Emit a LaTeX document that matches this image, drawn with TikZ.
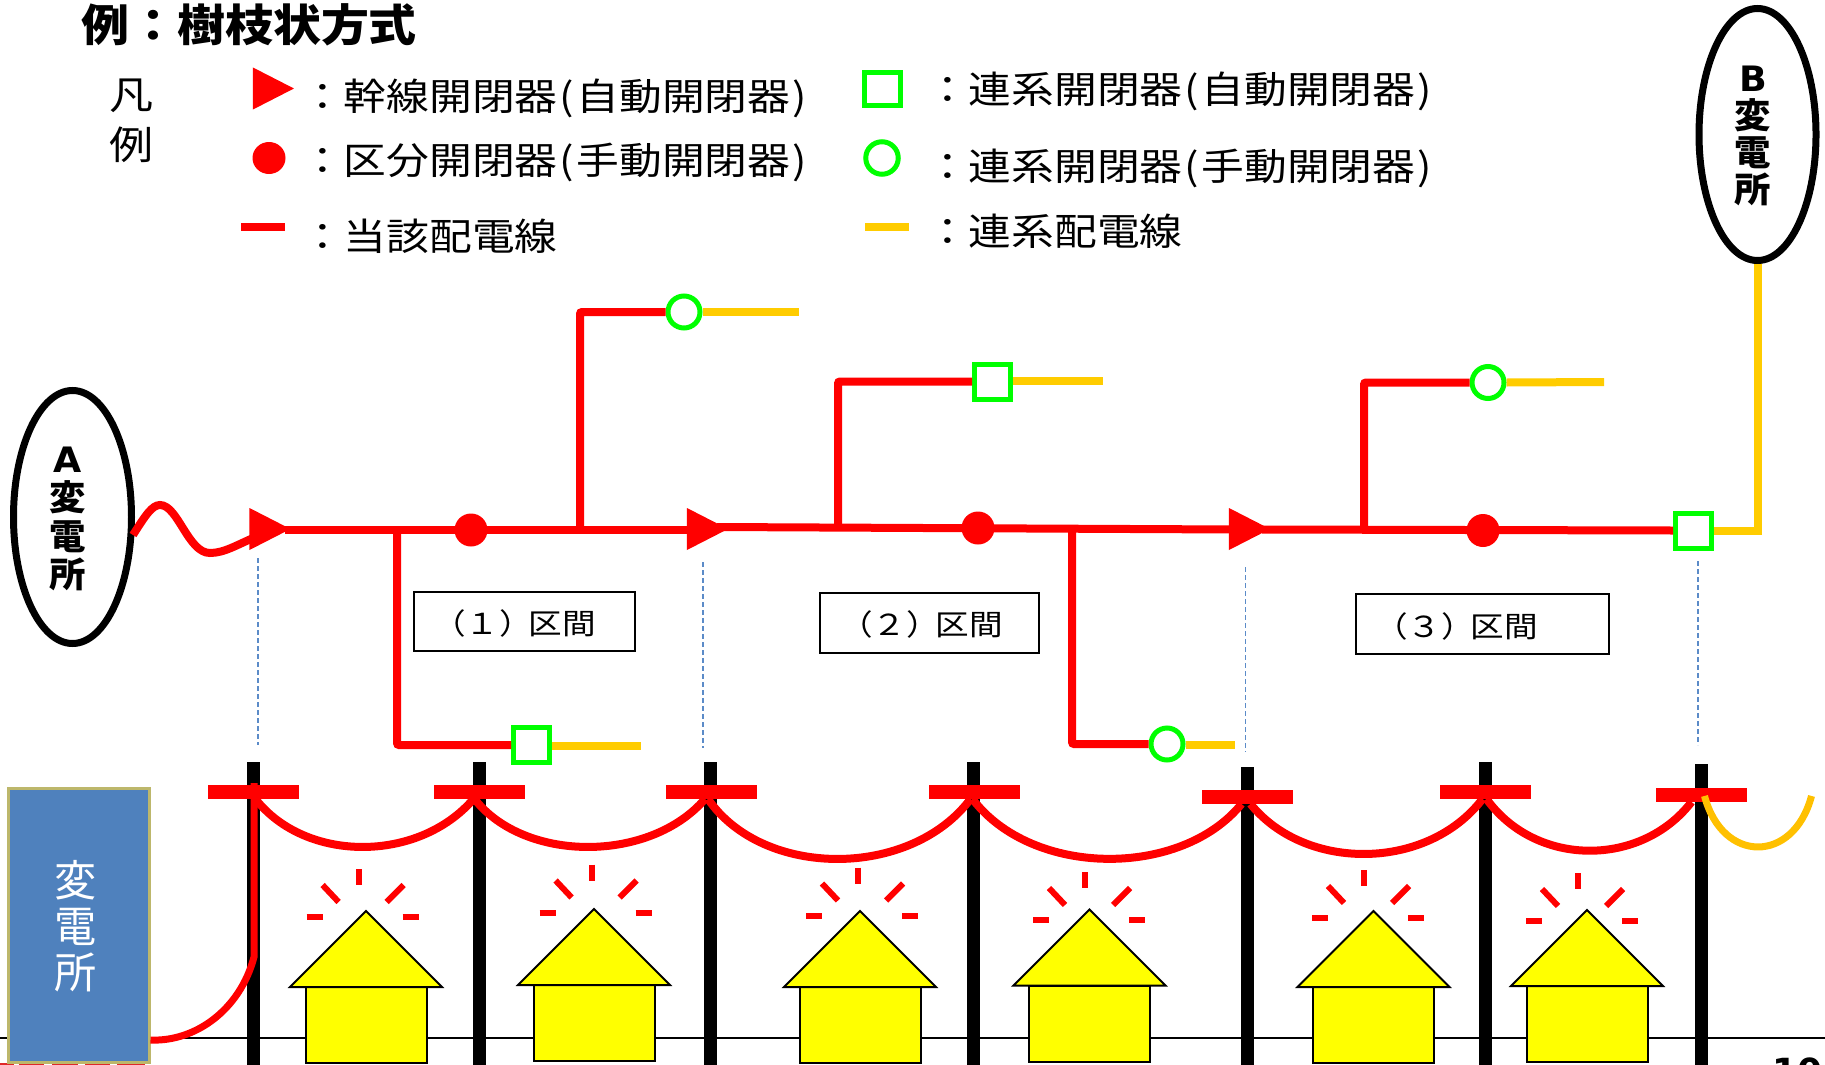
\documentclass[tikz,border=0pt]{standalone}
\usepackage{fontspec}
\usetikzlibrary{shapes.geometric}
\newfontfamily\jp{Noto Sans CJK JP}
\newfontfamily\djv{DejaVu Sans}
\definecolor{linered}{HTML}{FF0000}
\definecolor{tiegold}{HTML}{FFCC00}
\definecolor{tieorange}{HTML}{FFC000}
\definecolor{swgreen}{HTML}{00FF00}
\definecolor{subblue}{HTML}{4F81BD}
\definecolor{subedge}{HTML}{BDB76B}
\definecolor{dashblue}{HTML}{5B8BC8}
\definecolor{stripred}{HTML}{E02828}
\definecolor{houseyellow}{HTML}{FFFF00}
\tikzset{
  x=1pt,y=-1pt,
  feeder/.style={draw=linered,line width=8pt,rounded corners=2pt},
  tieline/.style={draw=tiegold,line width=8pt},
  wire/.style={draw=linered,line width=8pt},
  pole/.style={draw=black,line width=13pt},
  arm/.style={fill=linered,minimum width=91pt,minimum height=13.5pt,inner sep=0pt},
  trunksw/.style={isosceles triangle,isosceles triangle stretches,fill=linered,inner sep=0pt,minimum width=42pt,minimum height=41pt,anchor=apex},
  sectsw/.style={circle,fill=linered,inner sep=0pt,minimum size=33pt},
  tiesq/.style={rectangle,draw=swgreen,fill=white,line width=5pt,inner sep=0pt,minimum width=36pt,minimum height=35pt},
  tiecirc/.style={circle,draw=swgreen,fill=white,line width=5pt,inner sep=0pt,minimum size=32pt},
  station/.style={ellipse,draw=black,fill=white,line width=7pt,inner sep=0pt,minimum width=118pt,minimum height=253pt},
  sectbox/.style={rectangle,draw=black,line width=2.5pt,inner sep=0pt},
  sectlabel/.style={font=\jp\fontsize{29}{32}\selectfont,inner sep=0pt,xscale=1.16,transform shape},
  legendtext/.style={font=\jp\fontsize{37.5}{40}\selectfont,inner sep=0pt,anchor=base west,xscale=1.14,transform shape},
  stationtext/.style={font=\jp\bfseries\fontsize{35}{38.5}\selectfont,align=center,inner sep=0pt,xscale=1.04,transform shape},
  ray/.style={draw=linered,line width=6pt},
  bluedash/.style={draw=dashblue,line width=1.2pt,dash pattern=on 5pt off 3pt},
}
\newcommand{\mkhouse}[4]{%
  \begin{scope}[shift={(#1,#2)}]
    \draw[black,fill=houseyellow,line width=2pt] (-60.5,76) rectangle (60.5,152);
    \draw[black,fill=houseyellow,line width=2pt,line join=miter] (0,0) -- (76,76) -- (-76,76) -- cycle;
  \end{scope}
  \begin{scope}[shift={(#3,#4)}]
    \draw[ray] (0,-37) -- (0,-21);
    \draw[ray] (-36,-21) -- (-20,-4);
    \draw[ray] (45,-21) -- (28,-4);
    \draw[ray] (-52,11) -- (-36,11);
    \draw[ray] (44,11) -- (60,11);
  \end{scope}}
\newcommand{\lp}{\kern1.5pt(\kern2.5pt}
\newcommand{\rp}{\kern2pt)}
\begin{document}
\begin{tikzpicture}
\useasboundingbox (0,0) rectangle (1825,1065);
% bottom strip
\foreach \a/\b in {0/14,19/44,52/78,85/110,117/145}
  \fill[stripred] (\a,1063) rectangle (\b,1065);
% ground
\draw[black,line width=2pt] (0,1038) -- (1825,1038);
% poles
\foreach \px/\pt in {253.5/762,479.5/762,710/762,973/762,1247.5/767,1485/762,1701.5/764}
  \draw[pole] (\px,\pt) -- (\px,1065);
% cross arms
\node[arm] (arm1) at (253.5,792) {};
\node[arm] (arm2) at (479.5,792) {};
\node[arm] (arm3) at (711,792) {};
\node[arm] (arm4) at (974.5,792) {};
\node[arm] (arm5) at (1247.5,797) {};
\node[arm] (arm6) at (1485.5,792) {};
\node[arm] (arm7) at (1701.5,795) {};
% catenaries
\draw[wire] ([xshift=2pt]arm1.south) .. controls +(50,64) and +(-55,64) .. ([xshift=-6pt]arm2.south);
\draw[wire] ([xshift=-5pt]arm2.south) .. controls +(50,64) and +(-55,64) .. ([xshift=-6pt]arm3.south);
\draw[wire] ([xshift=-3pt]arm3.south) .. controls +(55,80) and +(-60,80) .. ([xshift=-4pt]arm4.south);
\draw[wire] ([xshift=-2pt]arm4.south) .. controls +(60,79) and +(-60,74) .. ([xshift=-6pt]arm5.south);
\draw[wire] ([xshift=3pt]arm5.south) .. controls +(55,68) and +(-55,72) .. ([xshift=-3pt]arm6.south);
\draw[wire] ([xshift=1pt]arm6.south) .. controls +(50,69) and +(-50,65) .. ([xshift=-10pt]arm7.south);
\draw[draw=tieorange,line width=7pt] ([xshift=3pt,yshift=6pt]arm7.south) .. controls +(18,68) and +(-18,68) .. ([xshift=110pt,yshift=6pt]arm7.south);
% houses
\mkhouse{366}{911}{358.6}{906}
\mkhouse{594}{909}{591.6}{901.5}
\mkhouse{860}{911}{858}{904.5}
\mkhouse{1089.5}{909.5}{1085}{909}
\mkhouse{1373.5}{911}{1364}{907}
\mkhouse{1587}{910}{1578}{910}
% substation block
\node[rectangle,draw=subedge,fill=subblue,line width=3pt,minimum width=141pt,minimum height=274pt,inner sep=0pt] (sub) at (78.5,925) {};
\node[font=\jp\fontsize{43}{46}\selectfont,text=white,align=center,inner sep=0pt,xscale=.98,transform shape] (subtxt) at (75.5,926) {変\\電\\所};
\coordinate (lead1) at (254,957);
\coordinate (leadtop) at (254,783);
\draw[wire,line width=7pt] (sub.east|-0,1040) .. controls (195,1042) and (240,1010) .. (lead1) -- (leadtop);
% stations
\node[station] (A) at (72.5,517) {};
\node[station,minimum width=117pt,minimum height=252pt] (B) at (1757.5,134.5) {};
\node[stationtext] (Atxt) at (68,519) {{\djv\bfseries A}\\変\\電\\所};
\node[stationtext,font=\jp\bfseries\fontsize{35}{37}\selectfont] (Btxt) at (1753,136) {{\djv\bfseries B}\\変\\電\\所};
% switches on main
\node[trunksw] (t1) at (291,529) {};
\node[trunksw] (t2) at (728.5,529) {};
\node[trunksw] (t3) at (1270.5,529) {};
\node[sectsw] (d1) at (471,530) {};
\node[sectsw] (d2) at (978,528) {};
\node[sectsw] (d3) at (1483,530.5) {};
\node[tiesq] (sA) at (531.5,745) {};
\node[tiesq] (sB) at (992.5,381.5) {};
\node[tiesq] (sC) at (1693.5,530.5) {};
\node[tiecirc] (cA) at (684,312) {};
\node[tiecirc] (cB) at (1167,744) {};
\node[tiecirc] (cC) at (1488,382.5) {};
% main feeder
\coordinate (waveStart) at (133,535);
\coordinate (waveEnd) at (258,536);
\draw[wire] (waveStart) .. controls (145,516) and (152,505) .. (160,505) .. controls (178,505) and (188,553) .. (210,553) .. controls (225,553) and (238,544) .. (waveEnd);
\coordinate (m1a) at (285,530);
\coordinate (m1b) at (690,530);
\coordinate (m2a) at (717,527);
\coordinate (m2b) at (1235,529.5);
\coordinate (m3a) at (1262,529.5);
\draw[wire] (m1a) -- (m1b);
\draw[wire] (m2a) -- (m2b);
\draw[wire] (m3a) -- (sC.west);
% branches
\coordinate (j1) at (397,530);
\coordinate (j2) at (580,530);
\coordinate (j3) at (838,528);
\coordinate (j4) at (1072,529);
\coordinate (j5) at (1364,530);
\draw[feeder] (j1) |- (sA.west);
\draw[feeder] (j2) |- (cA.west);
\draw[feeder] (j3) |- (sB.west);
\draw[feeder] (j4) |- (cB.west);
\draw[feeder] (j5) |- (cC.west);
% tie lines
\coordinate (e1) at (641,746);
\coordinate (e2) at (799,312);
\coordinate (e3) at (1103,381);
\coordinate (e4) at (1235,745);
\coordinate (e5) at (1604,382);
\draw[tieline] (sA.east|-e1) -- (e1);
\draw[tieline] (cA.east) -- (e2);
\draw[tieline] (sB.east|-e3) -- (e3);
\draw[tieline] (cB.east|-e4) -- (e4);
\draw[tieline] (cC.east) -- (e5);
\draw[tieline,line join=miter] (sC.east) -| (B.south);
% section boxes
\node[sectbox,minimum width=221pt,minimum height=59pt] (b1) at (524.5,621.5) {};
\node[sectbox,minimum width=219pt,minimum height=60pt] (b2) at (929.5,623) {};
\node[sectbox,minimum width=253pt,minimum height=60pt] (b3) at (1482.5,624) {};
\node[sectlabel] (l1) at (514,623) {（１）\kern-4pt区間};
\node[sectlabel] (l2) at (921,624) {（２）\kern-4pt区間};
\node[sectlabel] (l3) at (1456,626) {（３）\kern-4pt区間};
% section dashes
\coordinate (dd1a) at (258,558); \coordinate (dd1b) at (258,745);
\coordinate (dd2a) at (703,562); \coordinate (dd2b) at (703,748);
\coordinate (dd3a) at (1245.7,567); \coordinate (dd3b) at (1245.7,752);
\coordinate (dd4a) at (1698,561); \coordinate (dd4b) at (1698,745);
\draw[bluedash] (dd1a) -- (dd1b);
\draw[bluedash] (dd2a) -- (dd2b);
\draw[bluedash] (dd3a) -- (dd3b);
\draw[bluedash] (dd4a) -- (dd4b);
% title
\node[font=\jp\bfseries\fontsize{44}{46}\selectfont,inner sep=0pt,anchor=base west,xscale=1.09,transform shape] (title) at (81,42) {例：樹枝状方式};
% legend
\node[font=\jp\fontsize{39}{50}\selectfont,align=center,inner sep=0pt,xscale=1.13,transform shape] (hanrei) at (132,121) {凡\\例};
\node[trunksw] (lt) at (294.5,88.5) {};
\node[ellipse,fill=linered,inner sep=0pt,minimum width=33pt,minimum height=32pt] (lc) at (269,158) {};
\node[rectangle,fill=linered,inner sep=0pt,minimum width=44pt,minimum height=8pt] (ll) at (263,227) {};
\node[tiesq,minimum width=36pt,minimum height=33pt] (ls) at (882.5,89) {};
\node[tiecirc,minimum size=32.5pt] (lo) at (882,158) {};
\node[rectangle,fill=tiegold,inner sep=0pt,minimum width=44pt,minimum height=8pt] (ly) at (887,227) {};
\node[legendtext] (t11) at (301,110) {：幹線開閉器\lp 自動開閉器\rp};
\node[legendtext] (t12) at (301,174) {：区分開閉器\lp 手動開閉器\rp};
\node[legendtext] (t13) at (301,250) {：当該配電線};
\node[legendtext] (t21) at (926,103) {：連系開閉器\lp 自動開閉器\rp};
\node[legendtext] (t22) at (926,180) {：連系開閉器\lp 手動開閉器\rp};
\node[legendtext] (t23) at (926,245) {：連系配電線};
% page number, cut off by the page edge
\node[font=\djv\bfseries\fontsize{36}{38}\selectfont,inner sep=0pt,anchor=base west] (pg) at (1772,1084) {10};
\end{tikzpicture}
\end{document}
